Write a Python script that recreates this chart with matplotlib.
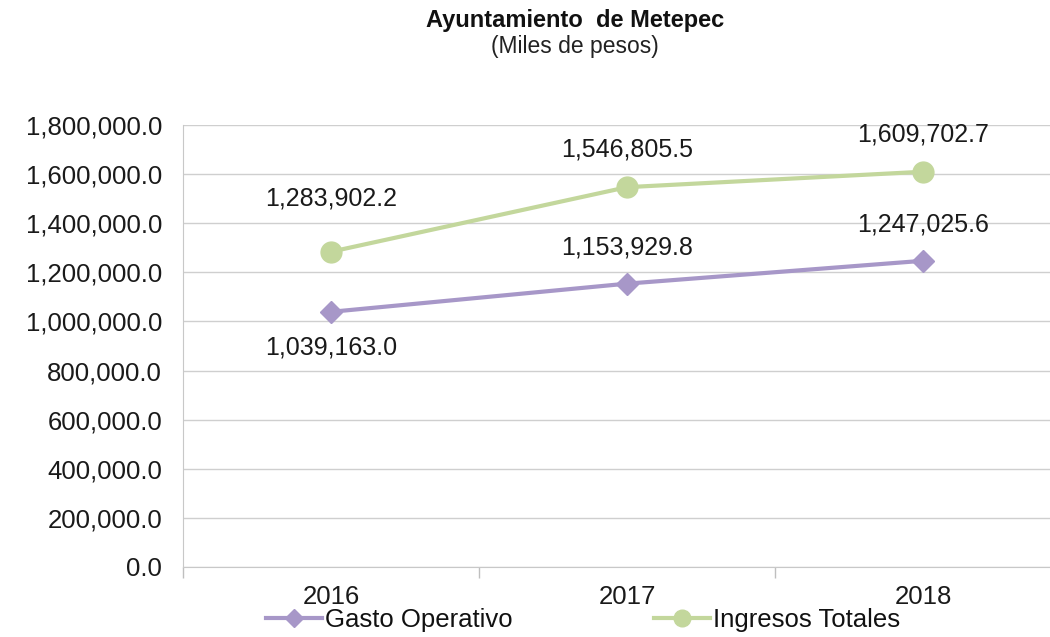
import matplotlib
matplotlib.use("Agg")
import matplotlib.pyplot as plt
from matplotlib.ticker import FuncFormatter, FixedLocator

plt.rcParams['font.family'] = ['Liberation Sans', 'DejaVu Sans']

years = ["2016", "2017", "2018"]
gasto = [1039163.0, 1153929.8, 1247025.6]
ingresos = [1283902.2, 1546805.5, 1609702.7]
yticks = [0, 200000, 400000, 600000, 800000, 1000000, 1200000, 1400000, 1600000, 1800000]

purple = '#A797C8'
green = '#C3D79C'

fig = plt.figure(figsize=(10.5, 6.37), dpi=100)
W, H = 1050, 637
left, right, top, bottom = 183, 1071, 125, 567
ax = fig.add_axes([left / W, (H - bottom) / H, (right - left) / W, (bottom - top) / H])

x = list(range(len(years)))
ax.plot(x, gasto, color=purple, lw=3, marker='D', ms=11, mec=purple, mfc=purple,
        label='Gasto Operativo', zorder=3)
ax.plot(x, ingresos, color=green, lw=3, marker='o', ms=15, mec=green, mfc=green,
        label='Ingresos Totales', zorder=3)

ax.set_xlim(-0.5, 2.5)
ax.set_ylim(0, 1800000)
ax.set_yticks(yticks)
ax.yaxis.set_major_formatter(FuncFormatter(lambda v, p: f"{v:,.1f}"))
ax.set_xticks(x)
ax.set_xticklabels(years)
ax.xaxis.set_minor_locator(FixedLocator([-0.5, 0.5, 1.5, 2.5]))
ax.tick_params(axis='x', which='major', length=0, labelsize=18.5, pad=13, colors='#1a1a1a')
ax.tick_params(axis='x', which='minor', length=8, color='#bfbfbf', width=1)
ax.tick_params(axis='y', length=0, labelsize=18.5, pad=15, colors='#1a1a1a')

ax.grid(axis='y', color='#cfcfcf', lw=1)
ax.set_axisbelow(True)
for s in ['top', 'right']:
    ax.spines[s].set_visible(False)
ax.spines['left'].set_color('#c8c8c8')
ax.spines['bottom'].set_color('#c8c8c8')

gasto_off = [-26, 26, 26]
ing_off = [38, 27, 27]
for i in x:
    ax.annotate(f"{gasto[i]:,.1f}", (i, gasto[i]), xytext=(0, gasto_off[i]),
                textcoords='offset points', ha='center', va='center', fontsize=18, color='#1a1a1a')
    ax.annotate(f"{ingresos[i]:,.1f}", (i, ingresos[i]), xytext=(0, ing_off[i]),
                textcoords='offset points', ha='center', va='center', fontsize=18, color='#1a1a1a')

fig.text(575 / W, 1 - 20 / H, "Ayuntamiento  de Metepec", ha='center', va='center',
         fontsize=17, fontweight='bold', color='#111111')
fig.text(575 / W, 1 - 47 / H, "(Miles de pesos)", ha='center', va='center',
         fontsize=16.5, color='#222222')

fig.legend(loc='center', bbox_to_anchor=(583 / W, 1 - 620 / H), ncol=2, frameon=False,
           fontsize=18.5, handlelength=2.2, handletextpad=0.1, columnspacing=5.5,
           labelcolor='#111111', markerscale=0.8)

fig.savefig("out.png", dpi=100)
